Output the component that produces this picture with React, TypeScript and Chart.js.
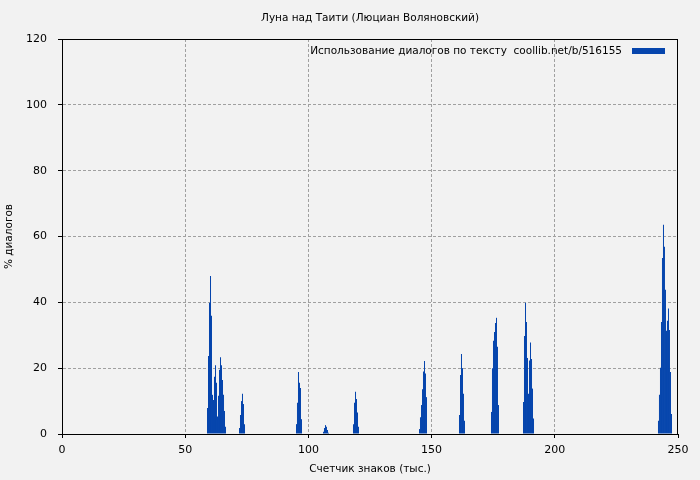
import React, { useEffect, useRef } from 'react';
import { Chart, registerables } from 'chart.js';

Chart.register(...registerables);

// ---- texts ----
const TITLE = 'Луна над Таити (Люциан Воляновский)';
const X_TITLE = 'Счетчик знаков (тыс.)';
const Y_TITLE = '% диалогов';
const SERIES_LABEL = 'Использование диалогов по тексту  coollib.net/b/516155';

// ---- axes ----
const X_MIN = 0;
const X_MAX = 250;
const X_STEP = 50;
const Y_MIN = 0;
const Y_MAX = 120;
const Y_STEP = 20;

// ---- data: position in text (thousand chars) and % of dialogue ----
const posA = [59.05, 59.46, 59.86, 60.27, 60.67, 61.08, 61.49, 61.89, 62.3, 62.7, 63.11, 63.52, 63.92, 64.33, 64.73, 65.14, 65.55, 65.95, 66.36];
const pctA = [7.9, 23.7, 39.9, 48.0, 35.9, 11.9, 10.3, 17.4, 20.9, 15.6, 5.3, 11.6, 19.5, 23.3, 20.9, 16.4, 11.9, 7.0, 2.2];

const posB = [72.04, 72.44, 72.85, 73.25, 73.66, 74.07];
const pctB = [1.8, 5.8, 10.0, 12.2, 9.1, 3.0];

const posC = [95.17, 95.57, 95.98, 96.39, 96.79, 97.2];
const pctC = [3.0, 9.5, 18.8, 15.6, 14.0, 4.5];

const posD = [106.13, 106.53, 106.94, 107.34, 107.75, 108.16];
const pctD = [0.7, 1.8, 2.7, 2.2, 1.2, 0.4];

const posE = [118.3, 118.71, 119.12, 119.52, 119.93, 120.33];
const pctE = [3.0, 9.5, 12.8, 10.6, 6.5, 2.2];

const posF = [145.09, 145.49, 145.9, 146.31, 146.71, 147.12, 147.52, 147.93];
const pctF = [1.5, 5.1, 8.8, 13.6, 19.0, 22.2, 18.4, 11.2];

const posG = [161.32, 161.73, 162.13, 162.54, 162.94, 163.35];
const pctG = [5.8, 17.9, 24.3, 20.0, 12.2, 4.0];

const posH = [174.31, 174.71, 175.12, 175.53, 175.93, 176.34, 176.74, 177.15];
const pctH = [6.7, 20.0, 28.3, 31.0, 33.7, 35.3, 26.5, 8.8];

const posI = [187.3, 187.7, 188.11, 188.51, 188.92, 189.33, 189.73, 190.14, 190.55, 190.95, 191.36];
const pctI = [9.7, 29.8, 39.9, 34.0, 23.1, 12.2, 22.3, 27.8, 22.8, 13.8, 4.7];

const posJ = [242.08, 242.48, 242.89, 243.3, 243.7, 244.11, 244.51, 244.92, 245.33, 245.73, 246.14, 246.54, 246.95, 247.36];
const pctJ = [4.0, 11.9, 20.1, 34.0, 53.5, 63.6, 56.9, 43.8, 31.4, 34.4, 38.1, 31.6, 18.8, 6.1];

const POSITIONS = [posA, posB, posC, posD, posE, posF, posG, posH, posI, posJ];
const SHARES = [pctA, pctB, pctC, pctD, pctE, pctF, pctG, pctH, pctI, pctJ];

const BAR_COLOR = '#0645ad';
const BG = '#f2f2f2';
const GRID = '#a0a0a0';
const FONT = '"DejaVu Sans", sans-serif';
const TEXT_SIZE = 10.5;

const points: { x: number; y: number }[] = [];
POSITIONS.forEach((xs, k) => xs.forEach((x, i) => points.push({ x, y: SHARES[k][i] })));

const framePlugin = {
  id: 'gnuFrame',
  beforeDraw(chart: any) {
    const { ctx, width, height } = chart;
    ctx.save();
    ctx.fillStyle = BG;
    ctx.fillRect(0, 0, width, height);
    ctx.restore();
  },
  afterDraw(chart: any) {
    const { ctx, chartArea } = chart;
    const { left, top, right, bottom } = chartArea;
    ctx.save();
    // legend (text, then sample box)
    ctx.font = `${TEXT_SIZE}px ${FONT}`;
    ctx.fillStyle = '#000';
    ctx.textAlign = 'right';
    ctx.textBaseline = 'middle';
    const boxW = 33;
    const boxRight = right - 13;
    const boxLeft = boxRight - boxW;
    ctx.fillText(SERIES_LABEL, boxLeft - 10, top + 12);
    ctx.fillStyle = BAR_COLOR;
    ctx.fillRect(boxLeft, top + 9, boxW, 6);
    // frame
    ctx.strokeStyle = '#000';
    ctx.lineWidth = 1;
    ctx.strokeRect(left + 0.5, top + 0.5, right - left - 1, bottom - top);
    ctx.restore();
  },
};

export default function App() {
  const ref = useRef<HTMLCanvasElement | null>(null);

  useEffect(() => {
    document.body.style.margin = '0';
    const canvas = ref.current;
    if (!canvas) return;
    const gridColor = (c: any) =>
      c.tick && (c.tick.value === c.scale.min || c.tick.value === c.scale.max) ? 'rgba(0,0,0,0)' : GRID;
    const chart = new Chart(canvas, {
      type: 'bar',
      data: {
        datasets: [
          {
            label: SERIES_LABEL,
            data: points,
            backgroundColor: BAR_COLOR,
            borderWidth: 0,
            barPercentage: 1.02,
            categoryPercentage: 1,
          },
        ],
      },
      options: {
        animation: false,
        responsive: false,
        devicePixelRatio: 1,
        layout: { padding: { left: 0, right: 22, top: 0, bottom: 0 } },
        plugins: {
          legend: { display: false },
          tooltip: { enabled: false },
          title: {
            display: true,
            text: TITLE,
            fullSize: false,
            color: '#000',
            font: { family: FONT, size: TEXT_SIZE, weight: 'normal' },
            padding: { top: 12, bottom: 14.4 },
          },
        },
        scales: {
          x: {
            type: 'linear',
            min: X_MIN,
            max: X_MAX,
            offset: false,
            afterFit: (s: any) => {
              s.height = 46;
            },
            ticks: {
              stepSize: X_STEP,
              color: '#000',
              font: { family: FONT, size: 11 },
              padding: 6,
              maxRotation: 0,
            },
            grid: {
              color: gridColor,
              lineWidth: 1,
              offset: false,
              drawTicks: true,
              tickLength: 4,
              tickColor: '#000',
              tickBorderDash: [],
            },
            border: { display: true, color: '#000', width: 1, dash: [3, 2] },
            title: {
              display: true,
              text: X_TITLE,
              color: '#000',
              font: { family: FONT, size: TEXT_SIZE },
              padding: { top: 0, bottom: 4 },
            },
          },
          y: {
            type: 'linear',
            min: Y_MIN,
            max: Y_MAX,
            afterFit: (s: any) => {
              s.width = 62;
            },
            ticks: {
              stepSize: Y_STEP,
              color: '#000',
              font: { family: FONT, size: 11 },
              padding: 11,
            },
            grid: {
              color: gridColor,
              lineWidth: 1,
              drawTicks: true,
              tickLength: 4,
              tickColor: '#000',
              tickBorderDash: [],
            },
            border: { display: true, color: '#000', width: 1, dash: [3, 2] },
            title: {
              display: true,
              text: Y_TITLE,
              color: '#000',
              font: { family: FONT, size: TEXT_SIZE },
              padding: { top: 3, bottom: 0 },
            },
          },
        },
      },
      plugins: [framePlugin],
    } as any);
    return () => chart.destroy();
  }, []);

  return (
    <div style={{ position: 'fixed', left: 0, top: 0, width: 700, height: 480, background: BG }}>
      <canvas ref={ref} width={700} height={480} style={{ display: 'block', width: 700, height: 480 }} />
    </div>
  );
}
